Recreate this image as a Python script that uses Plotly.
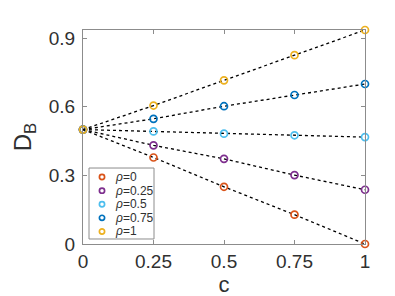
import plotly.graph_objects as go

c_vals = [0, 0.25, 0.5, 0.75, 1]
rho_names = ["0", "0.25", "0.5", "0.75", "1"]
db_rho0 = [0.5, 0.378, 0.25, 0.128, 0.0]
db_rho025 = [0.5, 0.431, 0.372, 0.301, 0.237]
db_rho05 = [0.5, 0.492, 0.482, 0.475, 0.467]
db_rho075 = [0.5, 0.547, 0.602, 0.651, 0.699]
db_rho1 = [0.5, 0.605, 0.715, 0.825, 0.935]
series = [db_rho0, db_rho025, db_rho05, db_rho075, db_rho1]
colors = ["#D95319", "#7E2F8E", "#4DBEEE", "#0072BD", "#EDB120"]
x_ticks = [0, 0.25, 0.5, 0.75, 1]
x_tick_text = ["0", "0.25", "0.5", "0.75", "1"]
y_ticks = [0, 0.3, 0.6, 0.9]
y_tick_text = ["0", "0.3", "0.6", "0.9"]

FONT = "Liberation Sans, Arial, Helvetica"
TXT = "#303030"
AX = "#8c8c8c"

fig = go.Figure()
for ys in series:
    fig.add_trace(go.Scatter(x=c_vals, y=ys, mode="lines",
                             line=dict(color="black", dash="dot", width=1.3),
                             showlegend=False, hoverinfo="skip", cliponaxis=False))
for ys, col, name in zip(series, colors, rho_names):
    fig.add_trace(go.Scatter(x=c_vals, y=ys, mode="markers", cliponaxis=False,
                             marker=dict(symbol="circle-open", size=7, color=col,
                                         line=dict(width=1.7, color=col)),
                             name="ρ=" + name, showlegend=False))

# compact legend drawn like MATLAB's (box, symbol, label)
leg_x0, leg_x1, leg_y0, leg_y1 = 0.0213, 0.2518, 0.0234, 0.355
entry_top, entry_step = 0.313, 0.0636
sym_x, txt_x = 0.0674, 0.108
fig.add_shape(type="rect", xref="paper", yref="paper",
              x0=leg_x0, x1=leg_x1, y0=leg_y0, y1=leg_y1,
              line=dict(color=AX, width=1), fillcolor="white", layer="above")
for i, (col, name) in enumerate(zip(colors, rho_names)):
    yy = entry_top - i * entry_step
    fig.add_shape(type="circle", xref="paper", yref="paper",
                  xsizemode="pixel", ysizemode="pixel",
                  xanchor=sym_x, yanchor=yy, x0=-2.6, x1=2.6, y0=-2.6, y1=2.6,
                  line=dict(color=col, width=1.7), layer="above")
    fig.add_annotation(xref="paper", yref="paper", x=txt_x, y=yy,
                       xanchor="left", yanchor="middle", showarrow=False,
                       text="<i>ρ</i>=" + name,
                       font=dict(family=FONT, size=12, color=TXT))

axis_common = dict(showgrid=False, zeroline=False, showline=True, linecolor=AX,
                   linewidth=1, mirror="ticks", ticks="inside", ticklen=4,
                   tickcolor=AX,
                   tickfont=dict(family=FONT, size=19, color=TXT))
fig.update_layout(
    width=395, height=296,
    margin=dict(l=75, r=38, t=22, b=60),
    plot_bgcolor="white", paper_bgcolor="white",
    showlegend=False,
    xaxis=dict(range=[0, 1], tickvals=x_ticks, ticktext=x_tick_text,
               ticklabelstandoff=0,
               title=dict(text="c", standoff=4,
                          font=dict(family=FONT, size=22, color=TXT)),
               **axis_common),
    yaxis=dict(range=[0, 0.935], tickvals=y_ticks, ticktext=y_tick_text,
               ticklabelstandoff=3,
               title=dict(text="D<sub>B</sub>", standoff=10,
                          font=dict(family=FONT, size=24, color=TXT)),
               **axis_common),
)
fig.write_html("out.html")
